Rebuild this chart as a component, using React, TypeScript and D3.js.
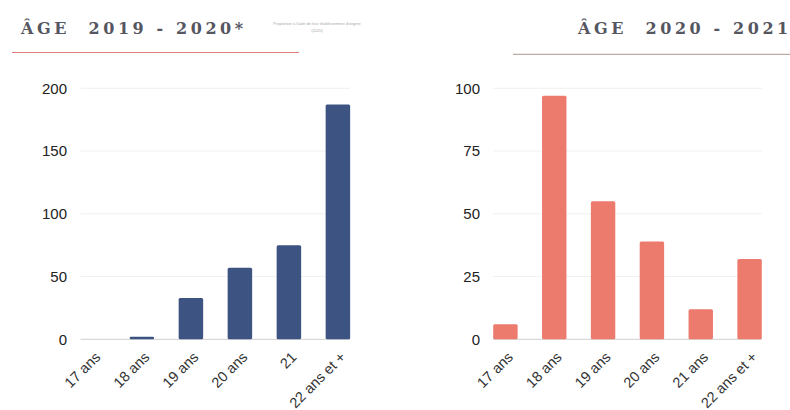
import React from "react";
import * as d3 from "d3";

const categoriesLeft = ["17 ans", "18 ans", "19 ans", "20 ans", "21", "22 ans et +"];
const valuesLeft = [0, 2, 33, 57, 75, 187];
const ticksLeft = [0, 50, 100, 150, 200];

const categoriesRight = ["17 ans", "18 ans", "19 ans", "20 ans", "21 ans", "22 ans et +"];
const valuesRight = [6, 97, 55, 39, 12, 32];
const ticksRight = [0, 25, 50, 75, 100];

const titleLeft = "ÂGE  2019 - 2020*";
const titleRight = "ÂGE  2020 - 2021";
const noteLines = ["Proportion à l'aide de leur établissement d'origine", "(2020)"];

type PanelProps = {
  cats: string[];
  vals: number[];
  ticks: number[];
  yMax: number;
  xRange: [number, number];
  labelX: number;
  color: string;
};

function Panel({ cats, vals, ticks, yMax, xRange, labelX, color }: PanelProps) {
  const x = d3.scaleBand<string>().domain(cats).range(xRange).paddingInner(0.5).paddingOuter(0.25);
  const y = d3.scaleLinear().domain([0, yMax]).range([339.3, 88.3]);
  const bw = x.bandwidth();
  const x0 = x(cats[0])!;
  const x1 = x(cats[cats.length - 1])! + bw;
  return (
    <g>
      {ticks.map((t) => (
        <g key={t}>
          {t > 0 && (
            <line x1={x0} x2={x1} y1={y(t)} y2={y(t)} stroke="#f1f1f1" strokeWidth={1} />
          )}
          <text
            x={labelX}
            y={y(t)}
            dy="0.35em"
            textAnchor="end"
            fontFamily="Liberation Sans, Arial, sans-serif"
            fontSize={15}
            fill="#222"
          >
            {t}
          </text>
        </g>
      ))}
      <line x1={x0} x2={x1} y1={y(0)} y2={y(0)} stroke="#cfcfcf" strokeWidth={1} />
      {cats.map((c, i) => {
        const h = y(0) - y(vals[i]);
        return vals[i] > 0 ? (
          <rect key={c} x={x(c)} y={y(vals[i])} width={bw} height={h} fill={color} rx={1.5} />
        ) : null;
      })}
      {cats.map((c) => {
        const cx = x(c)! + bw / 2 + 8.5;
        return (
          <text
            key={c}
            transform={`translate(${cx},${358}) rotate(-45)`}
            textAnchor="end"
            fontFamily="Liberation Sans, Arial, sans-serif"
            fontSize={14.5}
            fill="#333"
          >
            {c}
          </text>
        );
      })}
    </g>
  );
}

export default function App() {
  return (
    <svg
      width={790}
      height={410}
      style={{ position: "absolute", left: 0, top: 0, background: "#fff" }}
    >
      <rect width={790} height={410} fill="#fff" />
      <text
        x={21}
        y={34}
        fontFamily="'DejaVu Serif', serif"
        fontWeight="bold"
        fontSize={16}
        letterSpacing={3.6}
        fill="#55565f"
        style={{ whiteSpace: "pre" }}
      >
        {titleLeft}
      </text>
      {noteLines.map((l, i) => (
        <text
          key={i}
          x={317}
          y={25 + i * 7}
          textAnchor="middle"
          fontFamily="Liberation Sans, Arial, sans-serif"
          fontSize={4}
          fill="#aaa"
        >
          {l}
        </text>
      ))}
      <line x1={12} x2={299} y1={52.5} y2={52.5} stroke="#e07b7b" strokeWidth={1.2} />
      <text
        x={578}
        y={34}
        fontFamily="'DejaVu Serif', serif"
        fontWeight="bold"
        fontSize={16}
        letterSpacing={3.6}
        fill="#55565f"
        style={{ whiteSpace: "pre" }}
      >
        {titleRight}
      </text>
      <line x1={513} x2={790} y1={54.3} y2={54.3} stroke="#bdaaa6" strokeWidth={1.2} />
      <Panel
        cats={categoriesLeft}
        vals={valuesLeft}
        ticks={ticksLeft}
        yMax={200}
        xRange={[68.4, 362.4]}
        labelX={67}
        color="#3d5381"
      />
      <Panel
        cats={categoriesRight}
        vals={valuesRight}
        ticks={ticksRight}
        yMax={100}
        xRange={[481, 774]}
        labelX={480}
        color="#ec7b6e"
      />
    </svg>
  );
}
